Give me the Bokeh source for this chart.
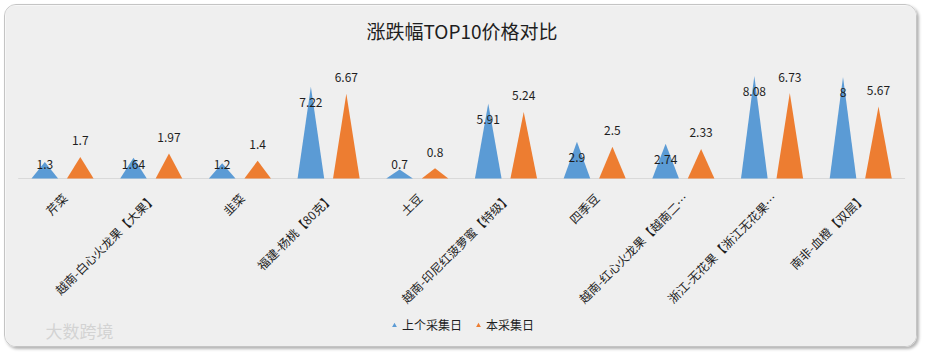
import numpy as np
from bokeh.plotting import figure
from bokeh.models import Range1d, Legend, LegendItem, ColumnDataSource
from bokeh.core.properties import value
from bokeh.embed import file_html
from bokeh.resources import INLINE

# ---- data ----
categories = ["芹菜", "越南-白心火龙果【大果】", "韭菜", "福建-杨桃【80克】", "土豆",
              "越南-印尼红菠萝蜜【特级】", "四季豆", "越南-红心火龙果【越南二…",
              "浙江-无花果【浙江无花果…", "南非-血橙【双层】"]
prev_values = [1.3, 1.64, 1.2, 7.22, 0.7, 5.91, 2.9, 2.74, 8.08, 8]
curr_values = [1.7, 1.97, 1.4, 6.67, 0.8, 5.24, 2.5, 2.33, 6.73, 5.67]
series_names = ["上个采集日", "本采集日"]
title_text = "涨跌幅TOP10价格对比"
watermark_text = "大数跨境"

BLUE = "#5b9bd5"
ORANGE = "#ed7d31"
FONT = "Noto Sans CJK SC"
BG = "#efefef"
TXT = "#1e1e1e"

W, H = 913, 343           # canvas inside the card
n = len(categories)
px_per_cat = 88.7
px_per_unit = 12.7
left_pad, right_pad = 12.7, 13.4
base_y = 173              # baseline, px from top
x0 = -left_pad / px_per_cat
x1 = n + right_pad / px_per_cat
y_top = base_y / px_per_unit
y_bot = -(H - base_y) / px_per_unit

centers = np.arange(n) + 0.5
half_w = 0.15
offset = 0.2

p = figure(width=W, height=H, output_backend="svg", toolbar_location=None,
           x_range=Range1d(x0, x1), y_range=Range1d(y_bot, y_top),
           min_border=0, min_border_left=0, min_border_right=0,
           min_border_top=0, min_border_bottom=0,
           background_fill_color=BG, border_fill_color=BG, outline_line_color=None,
           margin=(4, 0, 0, 4))
p.styles = {"border": "1px solid #c4c4c4", "border-radius": "12px",
            "box-shadow": "2px 2px 3px rgba(0,0,0,0.30)", "overflow": "hidden"}
p.axis.visible = False
p.grid.visible = False

# title
p.text(x=[(x0 + x1) / 2], y=[y_top], y_offset=25, text=[title_text],
       text_align="center", text_baseline="middle", text_font=value(FONT),
       text_font_size="19px", text_color=TXT)

# baseline (category axis line)
p.segment(x0=[0], y0=[0], x1=[n], y1=[0], line_color="#d9d9d9", line_width=1)

# spikes
def tri(cx_list, vals):
    xs = [[c - half_w, c, c + half_w] for c in cx_list]
    ys = [[0, v, 0] for v in vals]
    return xs, ys

bx, by = tri(centers - offset, prev_values)
ox, oy = tri(centers + offset, curr_values)
p.patches(bx, by, fill_color=BLUE, line_color=None)
p.patches(ox, oy, fill_color=ORANGE, line_color=None)

# value labels
prev_arr = np.array(prev_values)
curr_arr = np.array(curr_values)
blue_label_y = np.maximum(prev_arr - 16 / px_per_unit, 1.1)
p.text(x=centers - offset, y=blue_label_y, text=[f"{v:g}" for v in prev_values],
       text_align="center", text_baseline="middle", text_font=value(FONT),
       text_font_size="12px", text_color=TXT)
p.text(x=centers + offset, y=curr_arr, y_offset=-16, text=[f"{v:g}" for v in curr_values],
       text_align="center", text_baseline="middle", text_font=value(FONT),
       text_font_size="12px", text_color=TXT)

# category labels (rotated 45°)
p.text(x=centers, y=np.zeros(n), x_offset=2, y_offset=17, text=categories,
       angle=np.pi / 4, text_align="right", text_baseline="middle",
       text_font=value(FONT), text_font_size="12px", text_color=TXT)

# legend
src_nan = ColumnDataSource(dict(x=[np.nan], y=[np.nan]))
r1 = p.scatter("x", "y", source=src_nan, marker="triangle", size=10, fill_color=BLUE, line_color=None)
r2 = p.scatter("x", "y", source=src_nan, marker="triangle", size=10, fill_color=ORANGE, line_color=None)
legend = Legend(items=[LegendItem(label=series_names[0], renderers=[r1]),
                       LegendItem(label=series_names[1], renderers=[r2])],
                orientation="horizontal", location=(383, 15),
                background_fill_alpha=0, border_line_color=None,
                label_text_font=FONT, label_text_font_size="12px", label_text_color=TXT,
                glyph_width=12, glyph_height=14, label_height=14, label_standoff=2,
                spacing=10, padding=0, margin=0)
p.add_layout(legend)

# watermark
p.text(x=[x0], y=[y_bot], x_offset=40, y_offset=-18, text=[watermark_text],
       text_align="left", text_baseline="middle", text_font=value(FONT),
       text_font_size="17px", text_color="#d3d3d3")

open("out.html", "w").write(file_html(p, INLINE))
